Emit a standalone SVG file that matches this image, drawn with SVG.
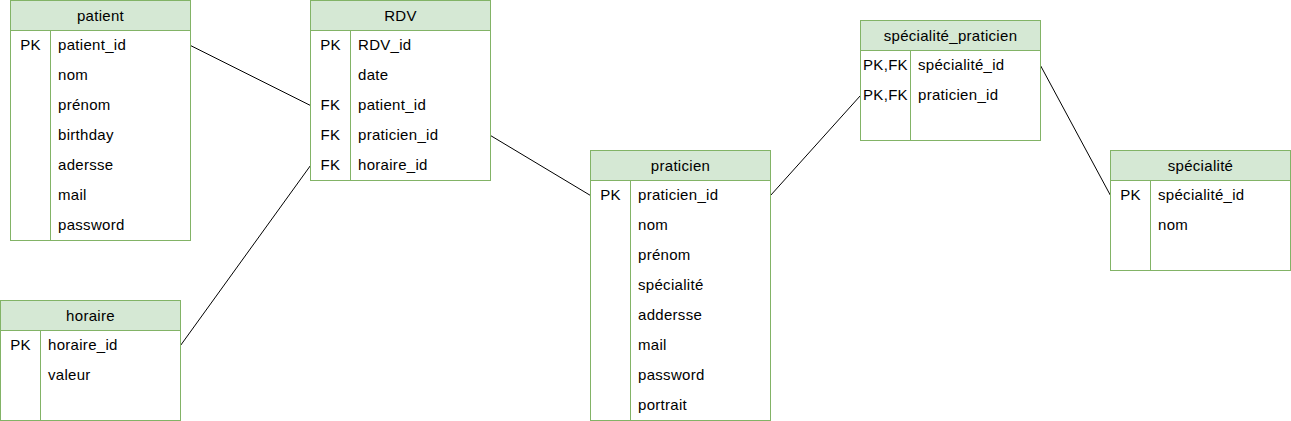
<svg xmlns="http://www.w3.org/2000/svg" width="1291" height="421" viewBox="0 0 1291 421">
<style>
.box{fill:#ffffff;stroke:#82b366;stroke-width:1}
.hdr{fill:#d5e8d4;stroke:#82b366;stroke-width:1}
.ln{stroke:#82b366;stroke-width:1;fill:none}
text{font-family:"Liberation Sans",Arial,sans-serif;font-size:15px;letter-spacing:0.3px;fill:#000000}
.t{text-anchor:middle}
.k{text-anchor:middle}
.conn line{stroke:#000000;stroke-width:1}
</style>
<rect x="0" y="0" width="1291" height="421" fill="#ffffff"/>
<g class="conn" id="connectors">
<line x1="190.5" y1="45.5" x2="310.5" y2="105.5"/>
<line x1="180.5" y1="345.5" x2="310.5" y2="165.5"/>
<line x1="490.5" y1="135.5" x2="590.5" y2="195.5"/>
<line x1="770.5" y1="195.5" x2="860.5" y2="95.5"/>
<line x1="1040.5" y1="65.5" x2="1110.5" y2="195.5"/>
</g>
<g id="patient">
<rect class="box" x="10.5" y="0.5" width="180" height="240"/>
<rect class="hdr" x="10.5" y="0.5" width="180" height="30"/>
<line class="ln" x1="50.5" y1="30.5" x2="50.5" y2="240.5"/>
<text class="t" x="100.5" y="21">patient</text>
<text class="k" x="30.5" y="49.5">PK</text>
<text x="58" y="49.5">patient_id</text>
<text x="58" y="79.5">nom</text>
<text x="58" y="109.5">prénom</text>
<text x="58" y="139.5">birthday</text>
<text x="58" y="169.5">adersse</text>
<text x="58" y="199.5">mail</text>
<text x="58" y="229.5">password</text>
</g>
<g id="RDV">
<rect class="box" x="310.5" y="0.5" width="180" height="180"/>
<rect class="hdr" x="310.5" y="0.5" width="180" height="30"/>
<line class="ln" x1="350.5" y1="30.5" x2="350.5" y2="180.5"/>
<text class="t" x="400.5" y="21">RDV</text>
<text class="k" x="330.5" y="49.5">PK</text>
<text x="358" y="49.5">RDV_id</text>
<text x="358" y="79.5">date</text>
<text class="k" x="330.5" y="109.5">FK</text>
<text x="358" y="109.5">patient_id</text>
<text class="k" x="330.5" y="139.5">FK</text>
<text x="358" y="139.5">praticien_id</text>
<text class="k" x="330.5" y="169.5">FK</text>
<text x="358" y="169.5">horaire_id</text>
</g>
<g id="horaire">
<rect class="box" x="0.5" y="300.5" width="180" height="120"/>
<rect class="hdr" x="0.5" y="300.5" width="180" height="30"/>
<line class="ln" x1="40.5" y1="330.5" x2="40.5" y2="420.5"/>
<text class="t" x="90.5" y="321">horaire</text>
<text class="k" x="20.5" y="349.5">PK</text>
<text x="48" y="349.5">horaire_id</text>
<text x="48" y="379.5">valeur</text>
</g>
<g id="praticien">
<rect class="box" x="590.5" y="150.5" width="180" height="270"/>
<rect class="hdr" x="590.5" y="150.5" width="180" height="30"/>
<line class="ln" x1="630.5" y1="180.5" x2="630.5" y2="420.5"/>
<text class="t" x="680.5" y="171">praticien</text>
<text class="k" x="610.5" y="199.5">PK</text>
<text x="638" y="199.5">praticien_id</text>
<text x="638" y="229.5">nom</text>
<text x="638" y="259.5">prénom</text>
<text x="638" y="289.5">spécialité</text>
<text x="638" y="319.5">addersse</text>
<text x="638" y="349.5">mail</text>
<text x="638" y="379.5">password</text>
<text x="638" y="409.5">portrait</text>
</g>
<g id="specialite_praticien">
<rect class="box" x="860.5" y="20.5" width="180" height="120"/>
<rect class="hdr" x="860.5" y="20.5" width="180" height="30"/>
<line class="ln" x1="910.5" y1="50.5" x2="910.5" y2="140.5"/>
<text class="t" x="950.5" y="41">spécialité_praticien</text>
<text class="k" x="885.5" y="69.5">PK,FK</text>
<text x="918" y="69.5">spécialité_id</text>
<text class="k" x="885.5" y="99.5">PK,FK</text>
<text x="918" y="99.5">praticien_id</text>
</g>
<g id="specialite">
<rect class="box" x="1110.5" y="150.5" width="180" height="120"/>
<rect class="hdr" x="1110.5" y="150.5" width="180" height="30"/>
<line class="ln" x1="1150.5" y1="180.5" x2="1150.5" y2="270.5"/>
<text class="t" x="1200.5" y="171">spécialité</text>
<text class="k" x="1130.5" y="199.5">PK</text>
<text x="1158" y="199.5">spécialité_id</text>
<text x="1158" y="229.5">nom</text>
</g>
</svg>
